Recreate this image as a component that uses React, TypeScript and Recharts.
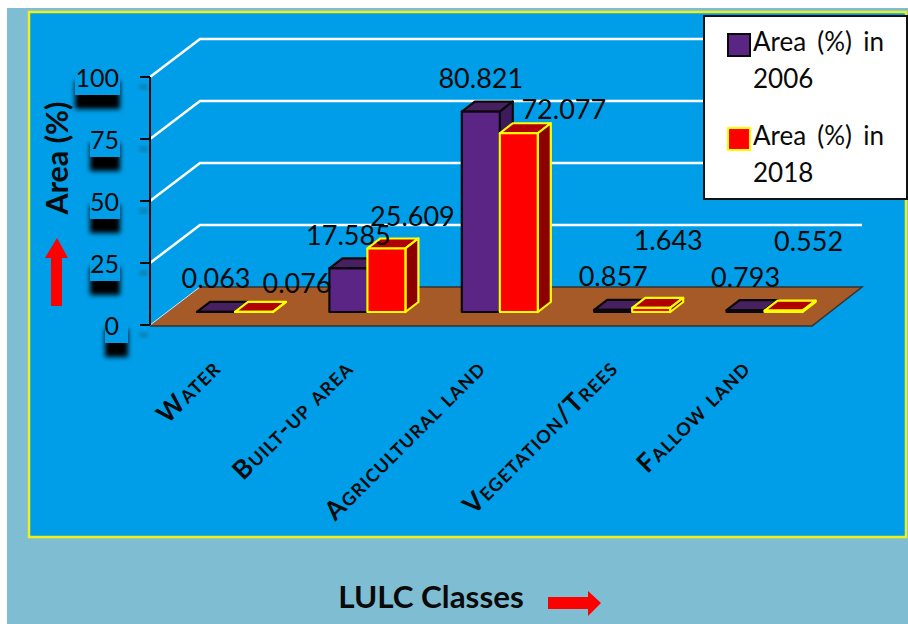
import React from 'react';
import { Bar, BarChart, CartesianGrid, LabelList, Legend, XAxis, YAxis } from 'recharts';

const classes = ['Water', 'Built-up area', 'Agricultural land', 'Vegetation/Trees', 'Fallow land'];
const area2006 = [0.063, 17.585, 80.821, 0.857, 0.793];
const area2018 = [0.076, 25.609, 72.077, 1.643, 0.552];
const yTicks = [0, 25, 50, 75, 100];

const data = classes.map((name, i) => ({ name, y2006: area2006[i], y2018: area2018[i] }));

const FONT = 'Lato, sans-serif';
// how far the bars stand in from the front edge of the floor
const BAR_SHIFT_X = 19;
const BAR_SHIFT_Y = -13;
// extrusion of the bars and of the back wall
const DEPTH_X = 13;
const DEPTH_Y = -10;
const WALL_X = 50;
const WALL_Y = -38;

const styles: Record<string, { front: string; top: string; side: string; edge: string }> = {
	y2006: { front: '#5B2586', top: '#47205F', side: '#3D1A5C', edge: '#0A0A0A' },
	y2018: { front: '#FF0000', top: '#B00000', side: '#8C0000', edge: '#FFFF00' },
};

// the 2018 labels were hand placed around the bars
const label2018Offsets = [
	{ dx: 43, dy: -29 },
	{ dx: 26, dy: -33 },
	{ dx: 45, dy: -25 },
	{ dx: 17, dy: -68 },
	{ dx: 25, dy: -70 },
];

const Bar3D = (props: any) => {
	const { x, y, width, height, dataKey } = props;
	const s = styles[dataKey];
	const l = x + BAR_SHIFT_X;
	const r = l + width;
	const t = y + BAR_SHIFT_Y;
	const b = t + height;
	return (
		<g stroke={s.edge} strokeWidth={2.2} strokeLinejoin='round'>
			<polygon
				points={`${l},${t} ${l + DEPTH_X},${t + DEPTH_Y} ${r + DEPTH_X},${t + DEPTH_Y} ${r},${t}`}
				fill={s.top}
			/>
			<polygon
				points={`${r},${t} ${r + DEPTH_X},${t + DEPTH_Y} ${r + DEPTH_X},${b + DEPTH_Y} ${r},${b}`}
				fill={s.side}
			/>
			<rect x={l} y={t} width={width} height={height} fill={s.front} />
		</g>
	);
};

const ValueLabel = ({ cx, cy, value }: { cx: number; cy: number; value: any }) => (
	<text x={cx} y={cy} textAnchor='middle' dominantBaseline='central' fontFamily={FONT} fontSize={27} fill='#0A0A0A'>
		{value}
	</text>
);

// drawn with the 2018 series so the text stays on top of the red bars;
// the position is worked back from the 2018 bar it is attached to
const renderLabel2006 = (props: any) => {
	const { x, y, width, height, index, value } = props;
	const base = y + height;
	const top = base - (value * height) / area2018[index];
	return <ValueLabel cx={x - width + BAR_SHIFT_X + width / 2} cy={top + BAR_SHIFT_Y - 34} value={value} />;
};

const renderLabel2018 = (props: any) => {
	const off = label2018Offsets[props.index];
	return (
		<ValueLabel
			cx={props.x + BAR_SHIFT_X + props.width / 2 + off.dx}
			cy={props.y + BAR_SHIFT_Y + off.dy}
			value={props.value}
		/>
	);
};

// floor at zero, white wall lines for every other tick
const renderGridLine = (props: any) => {
	const { x1, x2, y1, key } = props;
	if (y1 > 300) {
		return (
			<g key={key}>
				<polygon
					points={`${x1},${y1 + 1} ${x1 + WALL_X},${y1 + WALL_Y} ${x2 + WALL_X},${y1 + WALL_Y} ${x2},${y1 + 1}`}
					fill='#A65A28'
				/>
				<polyline
					points={`${x1 + WALL_X},${y1 + WALL_Y} ${x2 + WALL_X},${y1 + WALL_Y} ${x2},${y1 + 1} ${x1},${y1 + 1}`}
					fill='none'
					stroke='#333333'
					strokeWidth={1.5}
				/>
				<line x1={x1} y1={y1} x2={x1 + WALL_X} y2={y1 + WALL_Y} stroke='#E8E0D8' strokeWidth={1} />
			</g>
		);
	}
	return (
		<polyline
			key={key}
			points={`${x1},${y1} ${x1 + WALL_X},${y1 + WALL_Y} ${x2 + WALL_X},${y1 + WALL_Y}`}
			fill='none'
			stroke='#FFFFFF'
			strokeWidth={2.5}
		/>
	);
};

const YTick = (props: any) => {
	const { x, y, payload } = props;
	const label = String(payload.value);
	const right = x - 18;
	const w = label.length === 1 ? 23 : label.length * 15;
	const left = label.length === 1 ? right - 15 : right - w;
	return (
		<g>
			<rect x={left} y={y + 4} width={w} height={28} fill='#000000' filter='url(#soft)' />
			<rect x={left} y={y - 12} width={w} height={30} fill='#009EE8' />
			<rect x={140} y={y + 8} width={7} height={4} fill='#333333' opacity={0.45} filter='url(#soft)' />
			<text x={right - 1} y={y} textAnchor='end' dominantBaseline='central' fontFamily={FONT} fontSize={25} fill='#0A0A0A'>
				{label}
			</text>
		</g>
	);
};

const XTick = (props: any) => {
	const { x, payload } = props;
	const ax = x + 6;
	const ay = 370;
	return (
		<text
			x={ax}
			y={ay}
			textAnchor='end'
			transform={`rotate(-45 ${ax} ${ay})`}
			fontFamily={FONT}
			fontWeight={700}
			fontSize={26}
			letterSpacing={1.2}
			fill='#0A0A0A'
			style={{ fontVariant: 'small-caps' }}
		>
			{payload.value}
		</text>
	);
};

const renderLegend = (props: any) => (
	<div
		style={{
			boxSizing: 'border-box',
			width: 205,
			height: 185,
			background: '#FFFFFF',
			border: '2px solid #111111',
			fontFamily: FONT,
			fontSize: 26,
			wordSpacing: 4.5,
			lineHeight: '37px',
			color: '#0A0A0A',
			paddingTop: 6,
		}}
	>
		{props.payload.map((item: any) => (
			<div key={item.value} style={{ position: 'relative', paddingLeft: 48, paddingRight: 4, marginBottom: 20 }}>
				<span
					style={{
						position: 'absolute',
						left: 22,
						top: 10,
						width: 20,
						height: 20,
						background: styles[item.dataKey].front,
						border: `2px solid ${styles[item.dataKey].edge}`,
					}}
				/>
				{item.value}
			</div>
		))}
	</div>
);

export default function App() {
	return (
		<div style={{ position: 'absolute', left: 0, top: 0, width: 908, height: 624, background: '#FFFFFF' }}>
			<svg width={908} height={624} style={{ position: 'absolute', left: 0, top: 0 }}>
				<defs>
					<filter id='soft' x='-40%' y='-40%' width='180%' height='180%'>
						<feGaussianBlur stdDeviation={2.6} />
					</filter>
				</defs>
				<rect x={7} y={8} width={901} height={616} fill='#7FBDD2' />
				<rect x={29} y={12} width={877} height={525} fill='#009EE8' stroke='#EEF01E' strokeWidth={2.5} />
				<polygon points='51,306 62,306 62,258 68,258 57,238 45,258 51,258' fill='#FF0000' />
				<polygon points='548,597 588,597 588,591 601,603 588,616 588,609 548,609' fill='#FF0000' />
			</svg>
			<div style={{ position: 'absolute', left: 0, top: 0 }}>
				<BarChart
					width={908}
					height={624}
					data={data}
					barSize={38}
					barGap={0}
					margin={{ top: 77, right: 96, bottom: 0, left: 0 }}
				>
					<CartesianGrid vertical={false} horizontal={renderGridLine} />
					<XAxis
						dataKey='name'
						height={299}
						axisLine={false}
						tickLine={false}
						interval={0}
						tick={<XTick />}
						label={{
							value: 'LULC Classes',
							position: 'insideBottom',
							offset: 16,
							dx: -50,
							style: { fontFamily: FONT, fontWeight: 700, fontSize: 31.4, fill: '#0A0A0A' },
						}}
					/>
					<YAxis
						width={150}
						domain={[0, 100]}
						ticks={yTicks}
						tickSize={10}
						axisLine={{ stroke: '#0A0A0A', strokeWidth: 2 }}
						tickLine={{ stroke: '#0A0A0A', strokeWidth: 2 }}
						tick={<YTick />}
						label={{
							value: 'Area (%)',
							angle: -90,
							position: 'insideLeft',
							offset: 0,
							dx: 57,
							dy: -43,
							style: { textAnchor: 'middle', fontFamily: FONT, fontWeight: 700, fontSize: 30.5, fill: '#0A0A0A' },
						}}
					/>
					<Legend
						layout='horizontal'
						verticalAlign='middle'
						wrapperStyle={{ left: 703, top: 15, width: 205, height: 185 }}
						content={renderLegend}
					/>
					<Bar dataKey='y2006' name='Area (%) in 2006' fill={styles.y2006.front} shape={<Bar3D />} isAnimationActive={false} />
					<Bar dataKey='y2018' name='Area (%) in 2018' fill={styles.y2018.front} shape={<Bar3D />} isAnimationActive={false}>
						<LabelList dataKey='y2006' content={renderLabel2006} />
						<LabelList dataKey='y2018' content={renderLabel2018} />
					</Bar>
				</BarChart>
			</div>
		</div>
	);
}
